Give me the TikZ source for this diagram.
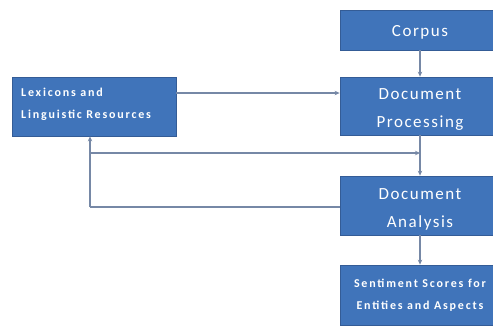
\documentclass[tikz,border=0pt]{standalone}
\usepackage{fontspec}
\setmainfont{Carlito}
\newfontfamily\bigface[LetterSpace=9]{Carlito}
\newfontfamily\smallface[LetterSpace=15]{Carlito}
\usetikzlibrary{arrows.meta}
\definecolor{boxblue}{RGB}{64,116,186}
\definecolor{boxedge}{RGB}{52,92,150}
\definecolor{linkgray}{RGB}{118,136,166}
\begin{document}
\begin{tikzpicture}[x=1pt,y=-1pt,
  blk/.style={draw=boxedge, line width=0.8pt, fill=boxblue, inner sep=0pt, minimum width=160pt},
  bigtext/.style={text=white, inner sep=0pt, font=\bigface\fontsize{17}{28}\selectfont, align=center},
  smalltext/.style={text=white, inner sep=0pt, font=\smallface\bfseries\fontsize{12}{22}\selectfont},
  link/.style={draw=linkgray, line width=1.3pt, -{Stealth[length=5pt,width=4.5pt]}},
  line/.style={draw=linkgray, line width=1.3pt}]
\useasboundingbox (0,0) rectangle (493,325);
\fill[white] (0,0) rectangle (493,325);
% pipeline boxes on the right
\node[blk, minimum height=40pt] (corpus) at (420,30) {};
\node[bigtext] (corpustext) at ([yshift=-2pt]corpus.center) {Corpus};
\node[blk, minimum height=58pt] (proc) at (420,106) {};
\node[bigtext] (proctext) at ([yshift=-4pt]proc.center) {Document\\Processing};
\node[blk, minimum height=59pt] (anal) at (420,205.5) {};
\node[bigtext] (analtext) at ([yshift=-4pt]anal.center) {Document\\Analysis};
\node[blk, minimum height=60pt] (sent) at (420,295) {};
\node[smalltext, align=center] (senttext) at (sent.center) {Sentiment Scores for\\Entities and Aspects};
% resources box on the left
\node[blk, minimum width=164pt, minimum height=59pt] (lex) at (94,106.5) {};
\node[smalltext, anchor=west, align=left] (lextext) at (21,104) {Lexicons and\\Linguistic Resources};
% main flow
\draw[link] (corpus) -- (proc);
\draw[link] (proc) -- (anal);
\draw[link] (anal) -- (sent);
\draw[link] (lex.east |- 0,93) -- (proc.west |- 0,93);
% feedback loop
\coordinate (corner) at (90,207);
\coordinate (split) at (90,153);
\draw[line] (anal.west |- corner) -- (corner);
\draw[link] (corner) -- (corner |- lex.south);
\draw[link] (split) -- (proc.south |- split);
\end{tikzpicture}
\end{document}
